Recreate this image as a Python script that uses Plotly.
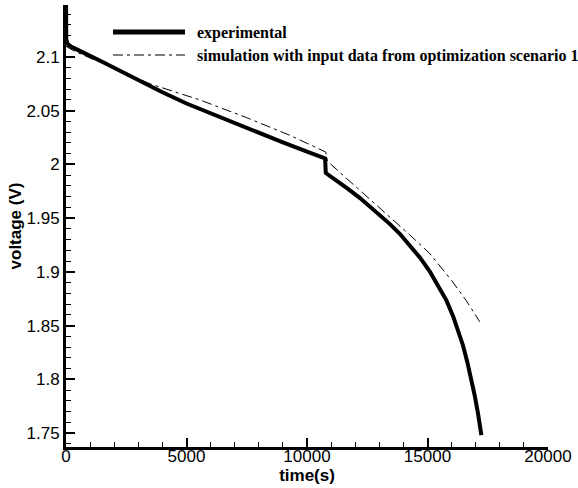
import plotly.graph_objects as go

# ---- data ----
exp_t = [0, 10, 60, 200, 361, 600, 913, 1500, 2300, 3000, 3500, 4000, 5000, 6000, 7000, 8000, 9000,
         10000, 10750, 10780, 11200, 11700, 12200, 12600, 13000, 13430, 13850, 14260, 14690, 15090,
         15506, 15784, 16058, 16300, 16473, 16650, 16822, 16960, 17095, 17236]
exp_v = [2.16, 2.1165, 2.1125, 2.1098, 2.108, 2.105, 2.102, 2.0955, 2.0865, 2.0785, 2.0725, 2.0672,
         2.0567, 2.0475, 2.0385, 2.0295, 2.0205, 2.012, 2.0057, 1.992, 1.9855, 1.9772, 1.9687,
         1.961, 1.9532, 1.9447, 1.9355, 1.9252, 1.9132, 1.9005, 1.885, 1.8735, 1.859, 1.8445,
         1.8315, 1.8162, 1.7998, 1.7848, 1.7683, 1.748]

sim_t = [0, 300, 700, 1500, 2780, 3490, 4500, 5560, 7500, 9300, 10780, 10850, 11700, 12600,
         13430, 14260, 15090, 15600, 16000, 16600, 17170]
sim_v = [2.110, 2.106, 2.102, 2.0945, 2.082, 2.075, 2.0675, 2.060, 2.0435, 2.027, 2.0115, 2.003,
         1.9858, 1.968, 1.9515, 1.9345, 1.9172, 1.9035, 1.892, 1.8735, 1.8535]

series_names = ["experimental", "simulation with input data from optimization scenario 1"]

x_tickvals = [0, 5000, 10000, 15000, 20000]
x_ticktext = ["0", "5000", "10000", "15000", "20000"]
y_tickvals = [1.75, 1.8, 1.85, 1.9, 1.95, 2.0, 2.05, 2.1]
y_ticktext = ["1.75", "1.8", "1.85", "1.9", "1.95", "2", "2.05", "2.1"]

DASH = "10px,4px,3px,4px"

fig = go.Figure()
fig.add_trace(go.Scatter(x=exp_t, y=exp_v, mode="lines", name=series_names[0],
                         line=dict(color="black", width=4), showlegend=False))
fig.add_trace(go.Scatter(x=sim_t, y=sim_v, mode="lines", name=series_names[1],
                         line=dict(color="black", width=1, dash=DASH), showlegend=False))

# manual legend (long sample lines as in the reference)
W, H = 578, 488
L, R, T, B = 66, 30, 5, 41
pw, ph = W - L - R, H - T - B
def px(x):
    return (x - L) / pw
def py(y):
    return (H - B - y) / ph

legend_rows = [(32.0, dict(color="black", width=5)),
               (55.0, dict(color="black", width=1, dash=DASH))]
for (yy, ln), name in zip(legend_rows, series_names):
    fig.add_shape(type="line", xref="paper", yref="paper",
                  x0=px(113), x1=px(185), y0=py(yy), y1=py(yy), line=ln)
    fig.add_annotation(xref="paper", yref="paper", x=px(195), y=py(yy + 1),
                       xanchor="left", yanchor="middle", showarrow=False,
                       text="<b>" + name + "</b>",
                       font=dict(family="Liberation Serif", size=16, color="black"))

axis_font = dict(family="Liberation Sans, Arial", size=17, color="black")
fig.update_xaxes(range=[0, 20000], tickvals=x_tickvals, ticktext=x_ticktext, automargin=False,
                 showline=True, linecolor="black", linewidth=2.5, mirror=False,
                 ticks="inside", ticklen=9, tickwidth=2, tickcolor="black",
                 minor=dict(ticks="inside", ticklen=5, tickwidth=1, tickcolor="black", dtick=1000, tick0=0),
                 showgrid=False, zeroline=False, tickfont=axis_font, ticklabelstandoff=-8,
                 title=dict(text="<b>time(s)</b>", font=axis_font, standoff=0))
fig.update_yaxes(range=[1.737, 2.1484], tickvals=y_tickvals, ticktext=y_ticktext, automargin=False,
                 showline=True, linecolor="black", linewidth=3, mirror=False,
                 ticks="inside", ticklen=9, tickwidth=2, tickcolor="black",
                 minor=dict(ticks="inside", ticklen=5, tickwidth=1, tickcolor="black", dtick=0.01, tick0=1.75),
                 showgrid=False, zeroline=False, tickfont=axis_font,
                 title=dict(text="<b>voltage (V)</b>", font=axis_font, standoff=1))

fig.update_layout(width=W, height=H, margin=dict(l=L, r=R, t=T, b=B),
                  plot_bgcolor="white", paper_bgcolor="white", showlegend=False)

fig.write_html("out.html", config={"displayModeBar": False},
               post_script="document.body.style.margin='0px';")
